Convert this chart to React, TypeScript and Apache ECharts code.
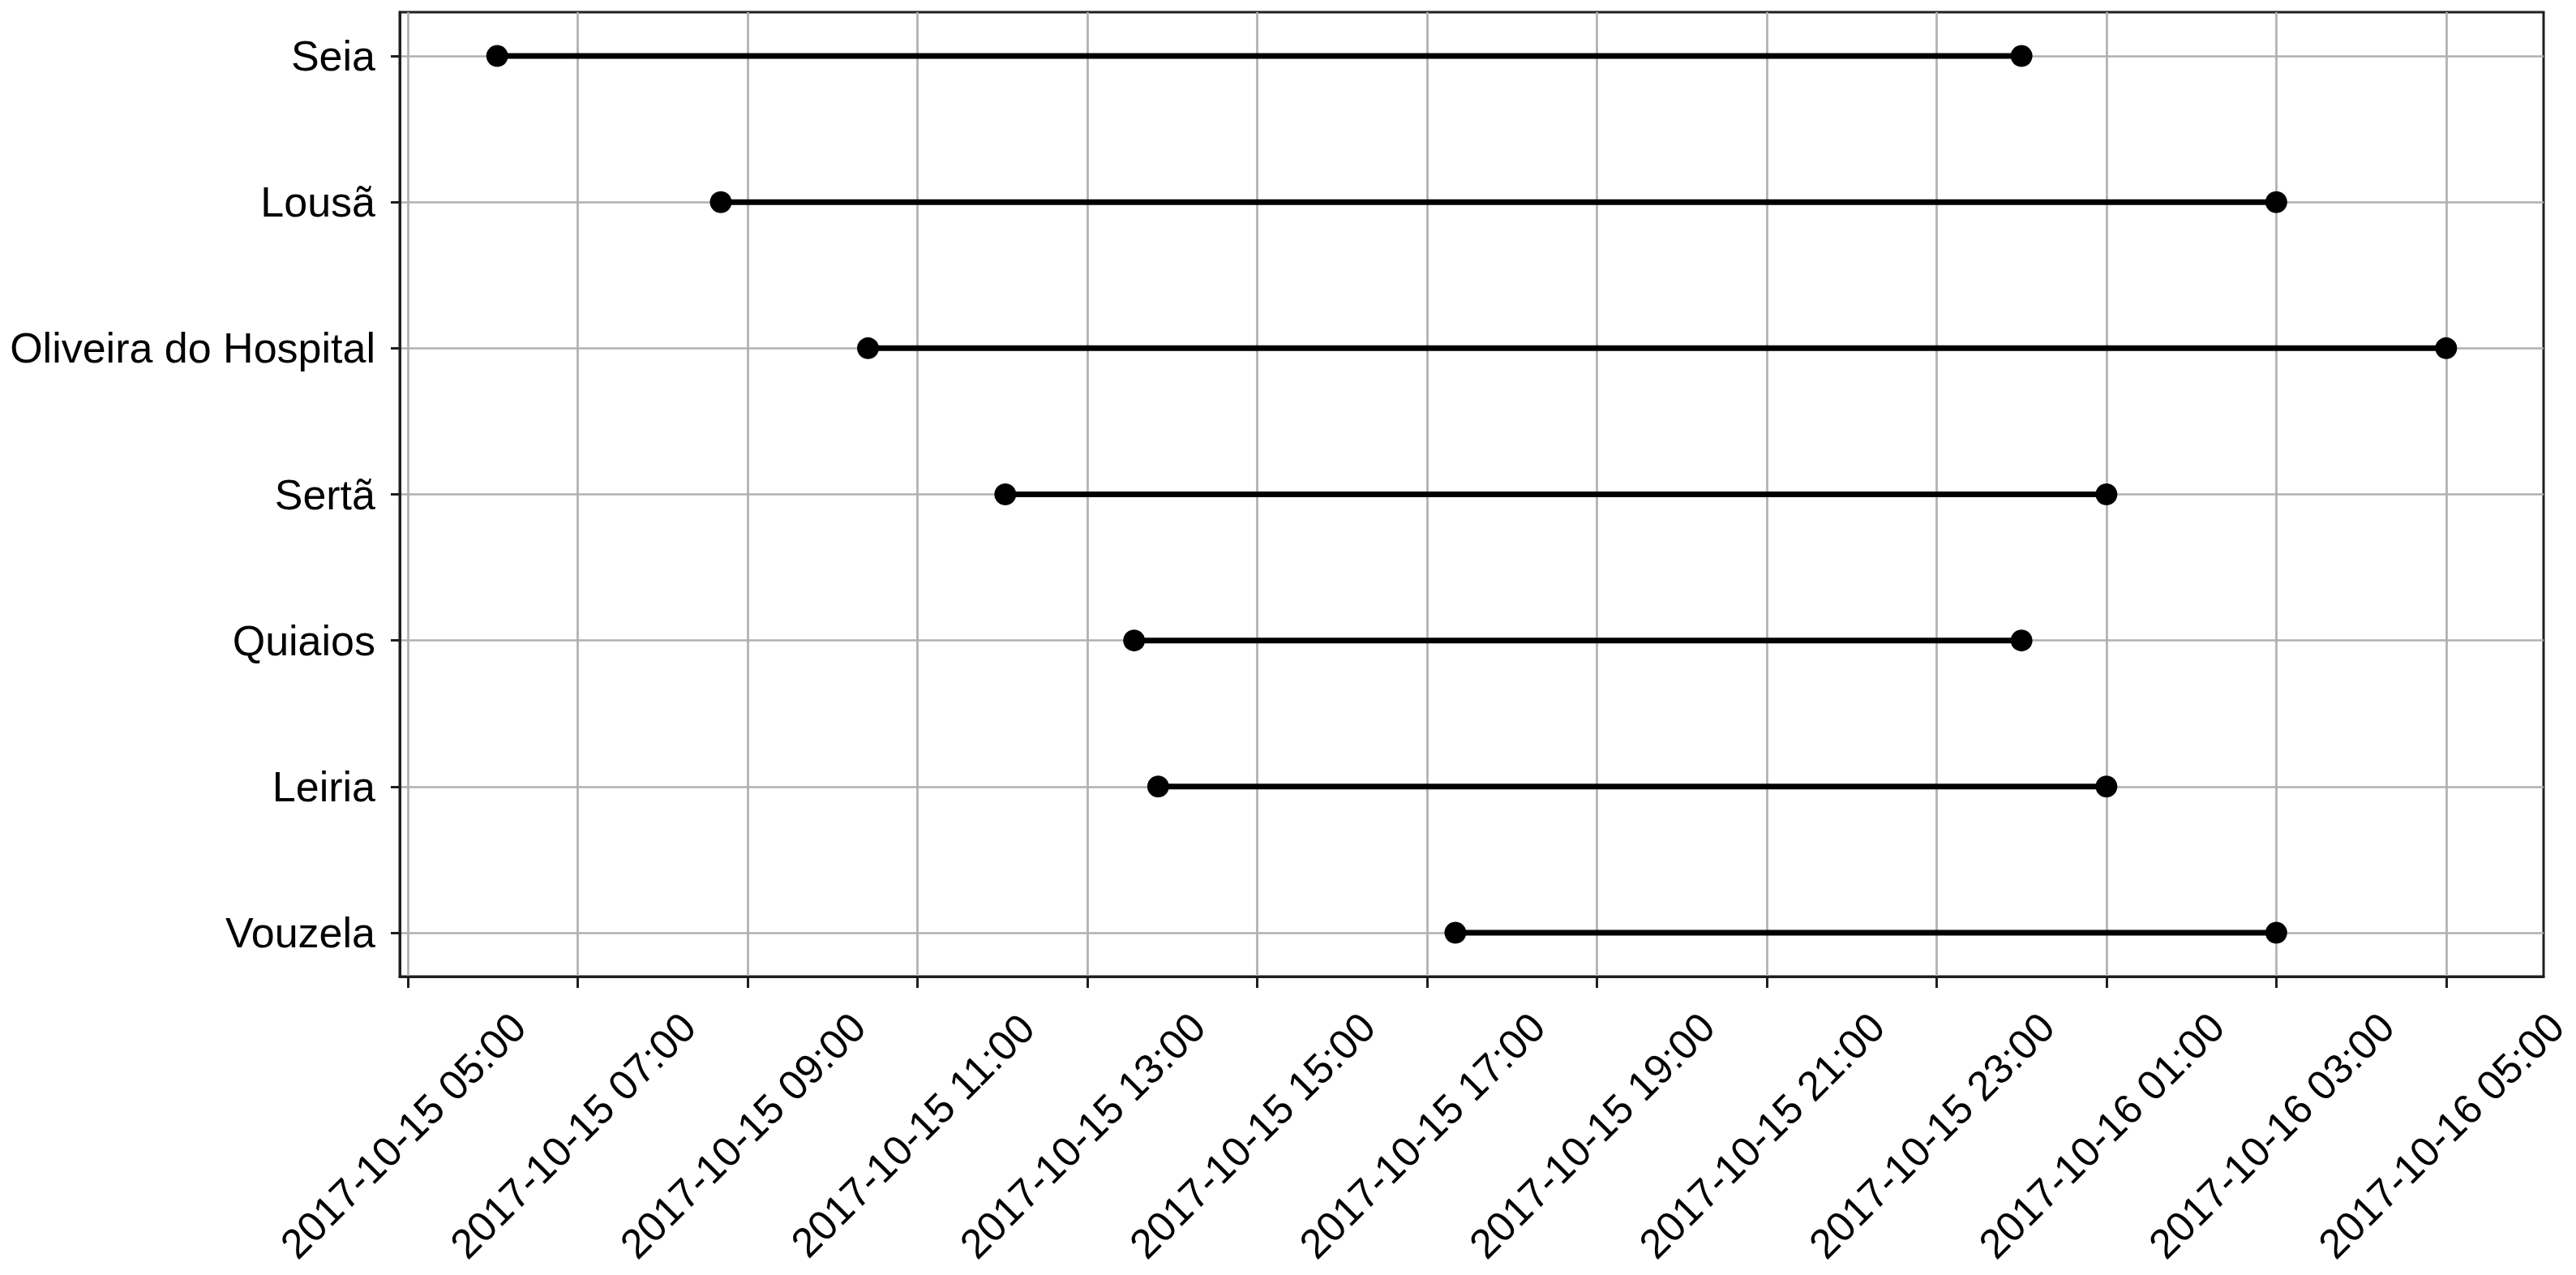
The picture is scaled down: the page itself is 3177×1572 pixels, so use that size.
import React, { useEffect, useRef } from "react";
import * as echarts from "echarts";

const categories = ["Seia", "Lousã", "Oliveira do Hospital", "Sertã", "Quiaios", "Leiria", "Vouzela"];
const startTimes = [
  "2017-10-15 06:03",
  "2017-10-15 08:41",
  "2017-10-15 10:25",
  "2017-10-15 12:02",
  "2017-10-15 13:33",
  "2017-10-15 13:50",
  "2017-10-15 17:20",
];
const endTimes = [
  "2017-10-16 00:00",
  "2017-10-16 03:00",
  "2017-10-16 05:00",
  "2017-10-16 01:00",
  "2017-10-16 00:00",
  "2017-10-16 01:00",
  "2017-10-16 03:00",
];
const xTickLabels = [
  "2017-10-15 05:00",
  "2017-10-15 07:00",
  "2017-10-15 09:00",
  "2017-10-15 11:00",
  "2017-10-15 13:00",
  "2017-10-15 15:00",
  "2017-10-15 17:00",
  "2017-10-15 19:00",
  "2017-10-15 21:00",
  "2017-10-15 23:00",
  "2017-10-16 01:00",
  "2017-10-16 03:00",
  "2017-10-16 05:00",
];

function parseUTC(s: string): number {
  const [d, t] = s.split(" ");
  const [Y, M, D] = d.split("-").map(Number);
  const [h, m] = t.split(":").map(Number);
  return Date.UTC(Y, M - 1, D, h, m);
}
const BASE = parseUTC(xTickLabels[0]);
const toHours = (s: string) => (parseUTC(s) - BASE) / 3600000;
const pad = (n: number) => String(n).padStart(2, "0");
function fmt(v: number): string {
  const d = new Date(BASE + Math.round(v * 3600000));
  return `${d.getUTCFullYear()}-${pad(d.getUTCMonth() + 1)}-${pad(d.getUTCDate())} ${pad(d.getUTCHours())}:${pad(d.getUTCMinutes())}`;
}

export default function App() {
  const ref = useRef<HTMLDivElement>(null);
  useEffect(() => {
    if (!ref.current) return;
    const chart = echarts.init(ref.current, null, { renderer: "svg" });
    const starts = startTimes.map(toHours);
    const ends = endTimes.map(toHours);
    const dMin = Math.min(...starts, ...ends);
    const dMax = Math.max(...starts, ...ends);
    const m = (dMax - dMin) * 0.05;
    const xTicks = xTickLabels.map(toHours);
    const yTicks = categories.map((_, i) => i);
    const font = "'Liberation Sans', Arial, sans-serif";
    const dark = "#1f1f1f";
    const series = categories.map((name, i) => ({
      type: "line" as const,
      name,
      data: [
        [starts[i], i],
        [ends[i], i],
      ],
      symbol: "circle",
      symbolSize: 27,
      lineStyle: { color: "#000", width: 7 },
      itemStyle: { color: "#000" },
      z: 5,
    }));
    chart.setOption({
      animation: false,
      backgroundColor: "#fff",
      grid: {
        left: 493,
        top: 15,
        right: 40,
        bottom: 368,
        show: true,
        borderColor: dark,
        borderWidth: 3,
        outerBoundsMode: "none",
      },
      xAxis: {
        type: "value",
        min: dMin - m,
        max: dMax + m,
        minInterval: 2,
        maxInterval: 2,
        axisLine: { show: true, onZero: false, lineStyle: { color: dark, width: 3 } },
        axisTick: { show: true, length: 14, lineStyle: { color: dark, width: 3 }, customValues: xTicks },
        splitLine: { show: true, lineStyle: { color: "#b0b0b0", width: 2.7 } },
        axisLabel: {
          customValues: xTicks,
          rotate: 45,
          align: "center",
          verticalAlign: "middle",
          margin: 190,
          padding: [0, 17, 17, 0],
          fontSize: 51,
          fontFamily: font,
          color: "#000",
          formatter: (v: number) => fmt(v),
        },
      },
      yAxis: {
        type: "value",
        inverse: true,
        min: -0.3,
        max: categories.length - 1 + 0.3,
        minInterval: 1,
        maxInterval: 1,
        axisLine: { show: true, onZero: false, lineStyle: { color: dark, width: 3 } },
        axisTick: { show: true, length: 11, lineStyle: { color: dark, width: 3 }, customValues: yTicks },
        splitLine: { show: true, lineStyle: { color: "#b0b0b0", width: 2.7 } },
        axisLabel: {
          customValues: yTicks,
          margin: 30,
          fontSize: 52,
          fontFamily: font,
          color: "#000",
          formatter: (v: number) => {
            const i = Math.round(v);
            return Math.abs(v - i) < 1e-6 && categories[i] ? categories[i] : "";
          },
        },
      },
      series,
    });
    return () => chart.dispose();
  }, []);
  return (
    <div
      ref={ref}
      style={{ position: "absolute", left: 0, top: 0, width: "3177px", height: "1572px" }}
    />
  );
}
